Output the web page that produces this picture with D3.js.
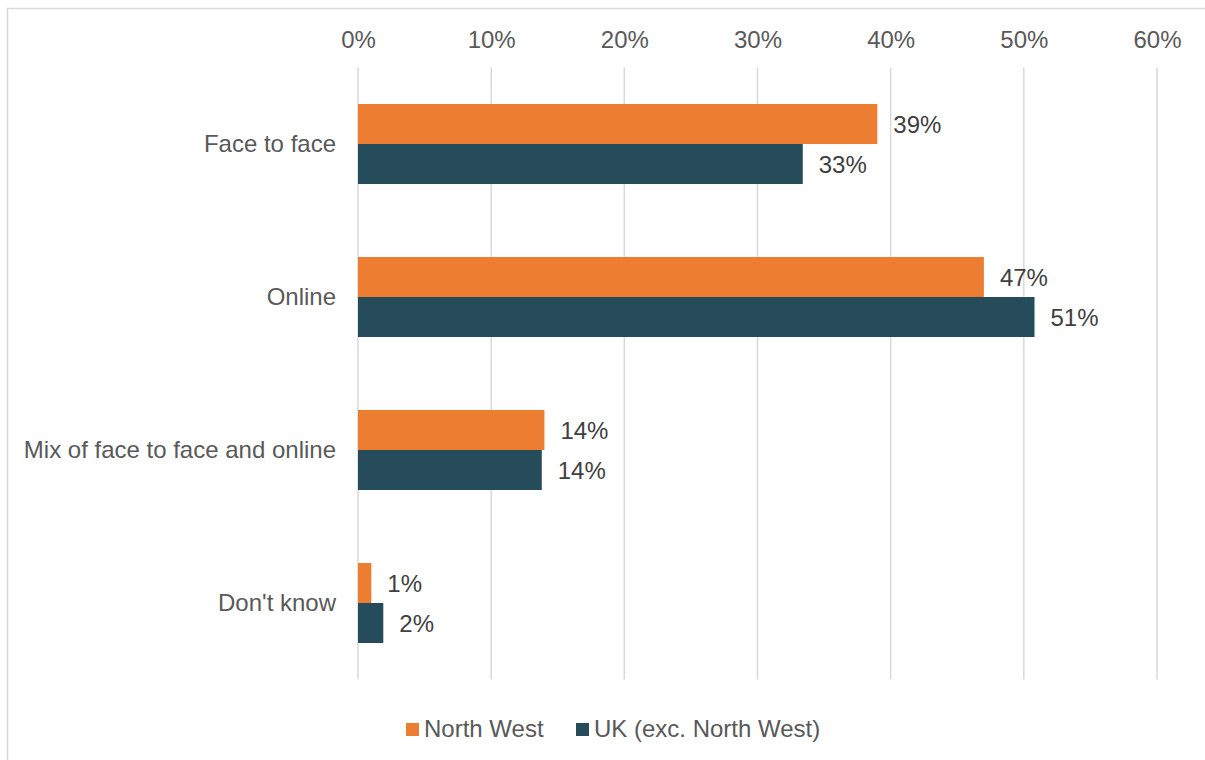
<!DOCTYPE html>
<html>
<head>
<meta charset="utf-8">
<script src="https://cdn.jsdelivr.net/npm/d3@7"></script>
<style>
  body { margin: 0; background: #fff; }
  text { font-family: "Liberation Sans", Arial, sans-serif; }
</style>
</head>
<body>
<div id="chart"></div>
<script>
// DATA
const categories = ["Face to face", "Online", "Mix of face to face and online", "Don't know"];
const seriesNames = ["North West", "UK (exc. North West)"];
const northWest = [39.0, 47.0, 14.0, 1.0];
const ukExcNW = [33.4, 50.8, 13.8, 1.9];
const xTicks = [0, 10, 20, 30, 40, 50, 60];
const colors = ["#ED7D31", "#264B5A"];

const w = 1205, h = 760;
const margin = { top: 67.5, right: 48, bottom: 80.5, left: 358 };
const fontSize = "24px";

const svg = d3.select("#chart").append("svg")
    .attr("width", w)
    .attr("height", h);

// outer chart border
svg.append("rect")
    .attr("x", 7.5).attr("y", 8.5)
    .attr("width", w + 20).attr("height", h + 20)
    .attr("fill", "none")
    .attr("stroke", "#d9d9d9")
    .attr("stroke-width", 1.5);

// SCALES
const x = d3.scaleLinear()
    .domain([0, 60])
    .range([margin.left, w - margin.right]);

const y = d3.scaleBand()
    .domain(categories)
    .range([margin.top, h - margin.bottom])
    .paddingInner(0.477)
    .paddingOuter(0.2386);

const ySub = d3.scaleBand()
    .domain(seriesNames)
    .range([0, y.bandwidth()]);

// gridlines
svg.append("g").selectAll("line")
    .data(xTicks)
    .join("line")
    .attr("x1", d => x(d)).attr("x2", d => x(d))
    .attr("y1", margin.top).attr("y2", h - margin.bottom)
    .attr("stroke", "#d9d9d9")
    .attr("stroke-width", 1.5);

// top axis labels
const xAxis = svg.append("g")
    .attr("transform", "translate(0," + 48 + ")")
    .call(d3.axisTop(x).tickValues(xTicks).tickFormat(d => d + "%").tickSize(0).tickPadding(0));
xAxis.select(".domain").remove();
xAxis.selectAll("text")
    .attr("font-size", fontSize)
    .attr("fill", "#595959")
    .attr("font-family", "Liberation Sans, Arial, sans-serif");

// category labels
const yAxis = svg.append("g")
    .attr("transform", "translate(" + (margin.left - 22) + ",0)")
    .call(d3.axisLeft(y).tickSize(0).tickPadding(0));
yAxis.select(".domain").remove();
yAxis.selectAll("text")
    .attr("font-size", fontSize)
    .attr("fill", "#595959")
    .attr("font-family", "Liberation Sans, Arial, sans-serif");

// bars
const rows = categories.map((c, i) => ({ cat: c, vals: [northWest[i], ukExcNW[i]] }));

const groups = svg.append("g").selectAll("g")
    .data(rows)
    .join("g")
    .attr("transform", d => "translate(0," + y(d.cat) + ")");

groups.selectAll("rect")
    .data(d => d.vals.map((v, j) => ({ v: v, s: seriesNames[j], j: j })))
    .join("rect")
    .attr("x", x(0))
    .attr("y", d => ySub(d.s))
    .attr("width", d => x(d.v) - x(0))
    .attr("height", ySub.bandwidth())
    .attr("fill", d => colors[d.j]);

groups.selectAll("text")
    .data(d => d.vals.map((v, j) => ({ v: v, s: seriesNames[j], j: j })))
    .join("text")
    .attr("x", d => x(d.v) + 16)
    .attr("y", d => ySub(d.s) + ySub.bandwidth() / 2)
    .attr("dy", "0.36em")
    .attr("font-size", fontSize)
    .attr("fill", "#404040")
    .text(d => Math.round(d.v) + "%");

// legend
const legendX = [406, 576];
const legend = svg.append("g").selectAll("g")
    .data(seriesNames)
    .join("g")
    .attr("transform", (d, i) => "translate(" + legendX[i] + ",723)");
legend.append("rect")
    .attr("width", 13).attr("height", 13)
    .attr("fill", (d, i) => colors[i]);
legend.append("text")
    .attr("x", 18)
    .attr("y", 14)
    .attr("font-size", fontSize)
    .attr("fill", "#595959")
    .text(d => d);
</script>
</body>
</html>
